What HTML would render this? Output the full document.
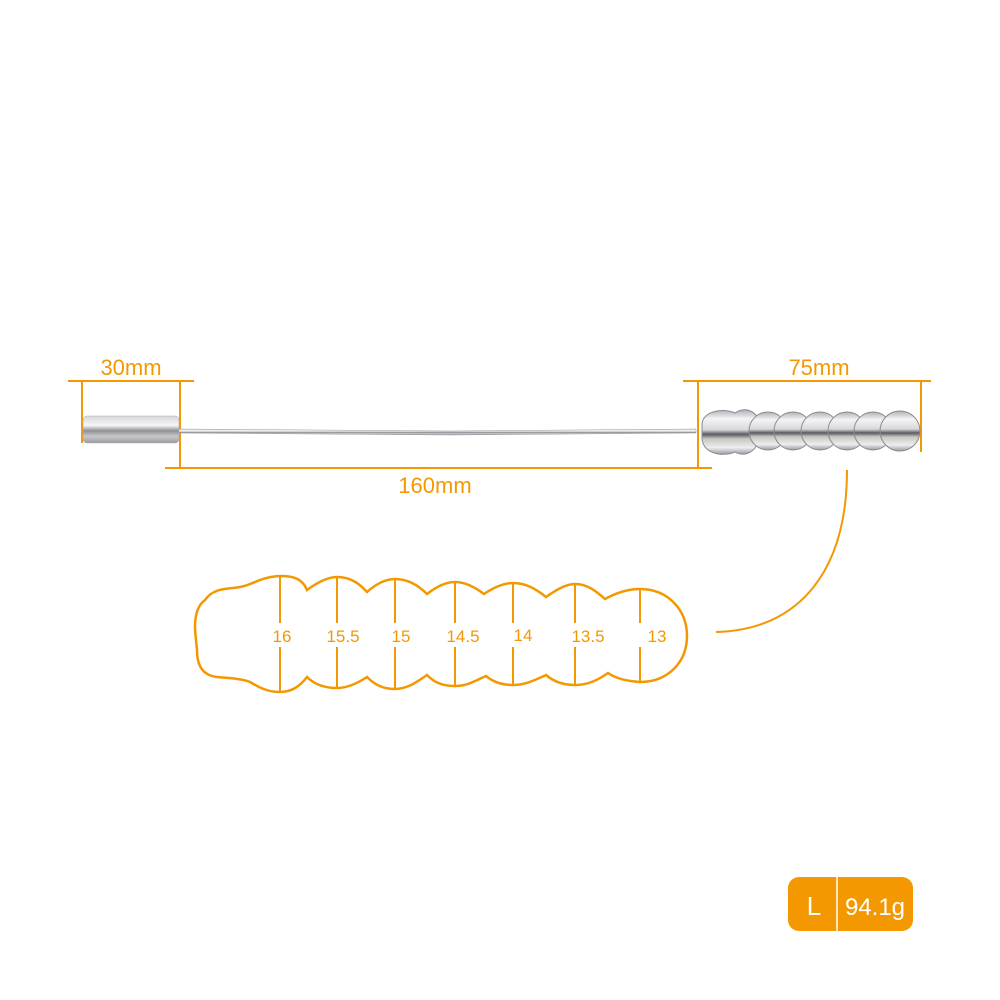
<!DOCTYPE html>
<html><head><meta charset="utf-8"><style>
html,body{margin:0;padding:0;background:#fff;}
svg{display:block;}
text{font-family:"Liberation Sans",sans-serif;fill:#f39800;}
</style></head><body>
<svg width="1000" height="1000" viewBox="0 0 1000 1000" xmlns="http://www.w3.org/2000/svg">
<defs>
<linearGradient id="metal" x1="0" y1="0" x2="0" y2="1">
<stop offset="0" stop-color="#d8d8dc"/><stop offset="0.35" stop-color="#f6f6f8"/><stop offset="0.55" stop-color="#8e8e94"/><stop offset="0.75" stop-color="#c8c8cc"/><stop offset="1" stop-color="#9a9aa0"/>
</linearGradient>
<linearGradient id="bead" x1="0" y1="0" x2="0" y2="1">
<stop offset="0" stop-color="#b0b0b6"/><stop offset="0.2" stop-color="#f4f4f6"/><stop offset="0.45" stop-color="#d8d8dc"/><stop offset="0.55" stop-color="#5a5a60"/><stop offset="0.65" stop-color="#c8c6c0"/><stop offset="0.85" stop-color="#eeeef0"/><stop offset="1" stop-color="#9a9aa0"/>
</linearGradient>
</defs>
<g stroke="#f39800" stroke-width="2" fill="none">
<line x1="68" y1="381" x2="194" y2="381"/>
<line x1="82" y1="381" x2="82" y2="443"/>
<line x1="180" y1="381" x2="180" y2="468"/>
<line x1="165" y1="468" x2="712" y2="468"/>
<line x1="698" y1="381" x2="698" y2="468"/>
<line x1="683" y1="381" x2="931" y2="381"/>
<line x1="921" y1="381" x2="921" y2="452"/>
<path d="M716,632 C800,630 847,570 847,470"/>
</g>
<text x="131" y="375" font-size="22" text-anchor="middle">30mm</text>
<text x="819" y="375" font-size="22" text-anchor="middle">75mm</text>
<text x="435" y="493" font-size="22" text-anchor="middle">160mm</text>
<path d="M178,429 L450,431 L696,429 L696,433 L450,435 L178,433 Z" fill="url(#metal)" stroke="#999" stroke-width="0.5"/>
<rect x="83" y="416" width="96" height="27" rx="4" fill="url(#metal)" stroke="#aaa" stroke-width="0.5"/>
<g stroke="#8a8a90" stroke-width="1">
<path d="M702,425 C702,410 725,408 735,413 C745,406 760,410 760,430 C760,452 745,458 735,452 C720,458 702,452 702,438 Z" fill="url(#bead)"/>
<circle cx="768" cy="431" r="19" fill="url(#bead)"/>
<circle cx="793" cy="431" r="19" fill="url(#bead)"/>
<circle cx="820" cy="431" r="19" fill="url(#bead)"/>
<circle cx="847" cy="431" r="19" fill="url(#bead)"/>
<circle cx="873" cy="431" r="19" fill="url(#bead)"/>
<circle cx="900" cy="431" r="20" fill="url(#bead)"/>
</g>
<path d="M205,600 C212,590 222,589 233,588 C245,587 250,584 260,580 C268,577 275,576 282,576 C295,576 303,580 307,590 C318,582 328,577 337,577 C350,577 359,583 367,592 C376,584 386,579 395,579 C408,579 418,585 427,594 C436,587 446,582 455,582 C466,582 476,588 484,594 C493,588 503,583 513,583 C526,583 536,589 546,597 C556,590 566,584 575,584 C588,584 597,592 605,599 C616,593 628,589 640,589 C668,589 687,610 687,636 C687,662 668,682 640,682 C625,681 615,678 608,673 C598,680 588,685 575,685 C563,685 553,681 546,675 C535,680 525,685 513,685 C500,685 492,681 486,676 C475,681 467,686 455,686 C440,686 433,681 427,675 C417,682 407,689 395,689 C381,689 373,683 367,677 C358,683 348,688 337,688 C322,688 313,683 307,677 C300,686 292,692 280,692 C268,692 260,688 250,682 C240,678 225,678 217,677 C200,675 197,662 197,650 C196,640 195,632 195,627 C195,614 198,605 205,600 Z" fill="none" stroke="#f39800" stroke-width="2.5"/>
<g stroke="#f39800" stroke-width="2">
<line x1="280" y1="576" x2="280" y2="623"/><line x1="280" y1="647" x2="280" y2="692"/>
<line x1="337" y1="577" x2="337" y2="623"/><line x1="337" y1="647" x2="337" y2="688"/>
<line x1="395" y1="579" x2="395" y2="623"/><line x1="395" y1="647" x2="395" y2="689"/>
<line x1="455" y1="582" x2="455" y2="623"/><line x1="455" y1="647" x2="455" y2="686"/>
<line x1="513" y1="583" x2="513" y2="623"/><line x1="513" y1="647" x2="513" y2="685"/>
<line x1="575" y1="584" x2="575" y2="623"/><line x1="575" y1="647" x2="575" y2="685"/>
<line x1="640" y1="589" x2="640" y2="623"/><line x1="640" y1="647" x2="640" y2="682"/>
</g>
<g font-size="17" text-anchor="middle">
<text x="282" y="642">16</text><text x="343" y="642">15.5</text><text x="401" y="642">15</text>
<text x="463" y="642">14.5</text><text x="523" y="641">14</text><text x="588" y="642">13.5</text><text x="657" y="642">13</text>
</g>
<rect x="788" y="877" width="125" height="54" rx="11" fill="#f39800"/>
<line x1="837" y1="877" x2="837" y2="931" stroke="#fff" stroke-width="1.5"/>
<text x="814" y="915" font-size="26" text-anchor="middle" style="fill:#fff">L</text>
<text x="875" y="915" font-size="24" text-anchor="middle" style="fill:#fff">94.1g</text>
</svg>
</body></html>
